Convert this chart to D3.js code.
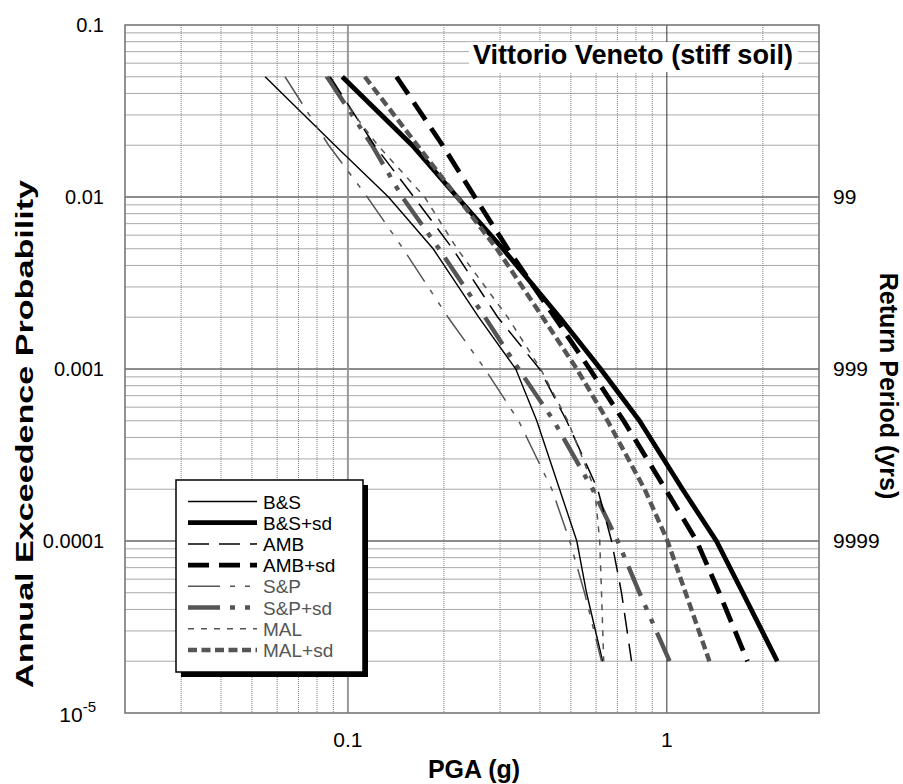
<!DOCTYPE html>
<html>
<head>
<meta charset="utf-8">
<script src="https://cdn.jsdelivr.net/npm/d3@7"></script>
<style>
  body { margin: 0; background: #fff; }
  svg { font-family: "Liberation Sans", Arial, sans-serif; }
</style>
</head>
<body>
<svg id="chart"></svg>
<script>
// DATA
const prob   = [0.05, 0.02, 0.01, 0.005, 0.002, 0.001, 5e-4, 2e-4, 1e-4, 5e-5, 2e-5]; /* annual exceedance */
const bs     = [0.055, 0.091, 0.134, 0.185, 0.257, 0.336, 0.391, 0.461, 0.522, 0.560, 0.629];
const bsSd   = [0.096, 0.159, 0.220, 0.306, 0.461, 0.620, 0.821, 1.12, 1.43, 1.73, 2.22];
const amb    = [0.088, 0.121, 0.161, 0.213, 0.295, 0.399, 0.485, 0.607, 0.671, 0.721, 0.775];
const ambSd  = [0.142, 0.198, 0.250, 0.317, 0.445, 0.573, 0.732, 0.991, 1.24, 1.46, 1.79];
const sp     = [0.0635, 0.087, 0.115, 0.149, 0.206, 0.269, 0.343, 0.436, 0.496, 0.552, 0.624];
const spSd   = [0.086, 0.119, 0.148, 0.193, 0.269, 0.343, 0.442, 0.585, 0.701, 0.821, 1.02];
const mal    = [0.085, 0.124, 0.174, 0.220, 0.317, 0.402, 0.489, 0.594, 0.616, 0.624, 0.634];
const malSd  = [0.113, 0.165, 0.220, 0.293, 0.408, 0.522, 0.652, 0.852, 1.005, 1.145, 1.36];

const seriesNames = ["B&S", "B&S+sd", "AMB", "AMB+sd", "S&P", "S&P+sd", "MAL", "MAL+sd"];
const seriesValues = [bs, bsSd, amb, ambSd, sp, spSd, mal, malSd];

const xTicks = [0.1, 1];
const xTickLabels = ["0.1", "1"];
const yTicks = [0.1, 0.01, 0.001, 0.0001];
const yTickLabels = ["0.1", "0.01", "0.001", "0.0001"];
const returnTicks = [0.01, 0.001, 0.0001];
const returnLabels = ["99", "999", "9999"];

// SIZES
const width = 903;
const height = 784;
const plotL = 125, plotR = 819, plotT = 25, plotB = 713;

// STYLES (same order as seriesNames)
const styles = [
  { color: "#000", w: 1.4, dash: null },
  { color: "#000", w: 4.8, dash: null },
  { color: "#000", w: 1.5, dash: "21,10" },
  { color: "#000", w: 4.8, dash: "21,10" },
  { color: "#555", w: 1.5, dash: "32,10,5,10,5,10" },
  { color: "#555", w: 4.4, dash: "32,10,5,10,5,10" },
  { color: "#555", w: 1.5, dash: "6,7" },
  { color: "#555", w: 4.4, dash: "9,4.5" }
];

const svg = d3.select("#chart")
  .attr("width", width)
  .attr("height", height);

// SCALES
const x = d3.scaleLog().domain([0.02, 3]).range([plotL, plotR]);
const y = d3.scaleLog().domain([1e-5, 0.1]).range([plotB, plotT]);

// GRID
const grid = svg.append("g");
const hMinor = [];
for (let e = -5; e <= -2; e++) for (let m = 2; m <= 9; m++) hMinor.push(m * Math.pow(10, e));
const vMinor = [];
for (let e = -2; e <= 0; e++) for (let m = 2; m <= 9; m++) {
  const v = m * Math.pow(10, e);
  if (v > 0.02 && v < 3) vMinor.push(v);
}

grid.selectAll(".hmin").data(hMinor).enter().append("line")
  .attr("x1", plotL).attr("x2", plotR)
  .attr("y1", d => y(d)).attr("y2", d => y(d))
  .attr("stroke", "#a8a8a8").attr("stroke-width", 1);

grid.selectAll(".vmin").data(vMinor).enter().append("line")
  .attr("x1", d => x(d)).attr("x2", d => x(d))
  .attr("y1", plotT).attr("y2", plotB)
  .attr("stroke", "#808080").attr("stroke-width", 1)
  .attr("stroke-dasharray", "1,1");

grid.selectAll(".hmaj").data([0.01, 0.001, 0.0001]).enter().append("line")
  .attr("x1", plotL).attr("x2", plotR)
  .attr("y1", d => y(d)).attr("y2", d => y(d))
  .attr("stroke", "#666").attr("stroke-width", 1.6);

grid.append("line")
  .attr("x1", x(0.1)).attr("x2", x(0.1)).attr("y1", plotT).attr("y2", plotB)
  .attr("stroke", "#999").attr("stroke-width", 2);
grid.append("line")
  .attr("x1", x(1)).attr("x2", x(1)).attr("y1", plotT).attr("y2", plotB)
  .attr("stroke", "#333").attr("stroke-width", 1);

// FRAME
svg.append("rect")
  .attr("x", plotL).attr("y", plotT)
  .attr("width", plotR - plotL).attr("height", plotB - plotT)
  .attr("fill", "none").attr("stroke", "#777").attr("stroke-width", 1.6);

// TITLE BOX
svg.append("rect")
  .attr("x", 469).attr("y", 42).attr("width", 329).attr("height", 30)
  .attr("fill", "#fff");
svg.append("text")
  .attr("x", 473).attr("y", 64)
  .attr("font-size", 27).attr("font-weight", "bold")
  .attr("textLength", 320).attr("lengthAdjust", "spacingAndGlyphs")
  .text("Vittorio Veneto (stiff soil)");

// CURVES
const line = d3.line()
  .x(d => x(d[0]))
  .y(d => y(d[1]));

const order = [1, 3, 5, 7, 0, 2, 4, 6]; /* thick first, thin on top */
order.forEach(i => {
  const pts = seriesValues[i].map((v, k) => [v, prob[k]]);
  svg.append("path")
    .attr("d", line(pts))
    .attr("fill", "none")
    .attr("stroke", styles[i].color)
    .attr("stroke-width", styles[i].w)
    .attr("stroke-dasharray", styles[i].dash)
    .attr("stroke-linecap", "butt");
});

// AXIS LABELS
svg.selectAll(".ylab").data(yTicks).enter().append("text")
  .attr("x", 104).attr("y", d => y(d))
  .attr("dy", "0.35em")
  .attr("text-anchor", "end")
  .attr("font-size", 20)
  .text((d, i) => yTickLabels[i]);

const e5 = svg.append("text")
  .attr("x", 96).attr("y", y(1e-5))
  .attr("dy", "0.45em")
  .attr("text-anchor", "end")
  .attr("font-size", 21);
e5.append("tspan").text("10");
e5.append("tspan").attr("font-size", 15).attr("dy", "-0.7em").text("-5");

svg.selectAll(".xlab").data(xTicks).enter().append("text")
  .attr("x", d => x(d)).attr("y", 747)
  .attr("text-anchor", "middle")
  .attr("font-size", 21)
  .text((d, i) => xTickLabels[i]);

svg.selectAll(".rlab").data(returnTicks).enter().append("text")
  .attr("x", 833).attr("y", d => y(d))
  .attr("dy", "0.35em")
  .attr("font-size", 21)
  .text((d, i) => returnLabels[i]);

svg.append("text")
  .attr("x", 474).attr("y", 778)
  .attr("text-anchor", "middle")
  .attr("font-size", 25).attr("font-weight", "bold")
  .text("PGA (g)");

svg.append("text")
  .attr("transform", "translate(33,434) rotate(-90)")
  .attr("text-anchor", "middle")
  .attr("font-size", 24).attr("font-weight", "bold")
  .attr("textLength", 508).attr("lengthAdjust", "spacingAndGlyphs")
  .text("Annual Exceedence Probability");

svg.append("text")
  .attr("transform", "translate(880,386) rotate(90)")
  .attr("text-anchor", "middle")
  .attr("font-size", 25).attr("font-weight", "bold")
  .text("Return Period (yrs)");

// LEGEND
const lg = svg.append("g");
lg.append("rect")
  .attr("x", 181).attr("y", 485).attr("width", 187).attr("height", 192)
  .attr("fill", "#000");
lg.append("rect")
  .attr("x", 176).attr("y", 480).attr("width", 187).attr("height", 192)
  .attr("fill", "#fff").attr("stroke", "#000").attr("stroke-width", 1.5);

const row = d3.scaleLinear().domain([0, 7]).range([501.5, 650]);
seriesNames.forEach((name, i) => {
  lg.append("line")
    .attr("x1", 188).attr("x2", 257)
    .attr("y1", row(i)).attr("y2", row(i))
    .attr("stroke", styles[i].color)
    .attr("stroke-width", styles[i].w)
    .attr("stroke-dasharray", styles[i].dash);
  lg.append("text")
    .attr("x", 263).attr("y", row(i) + 7)
    .attr("font-size", 19)
    .attr("fill", i < 4 ? "#000" : "#555")
    .text(name);
});
</script>
</body>
</html>
